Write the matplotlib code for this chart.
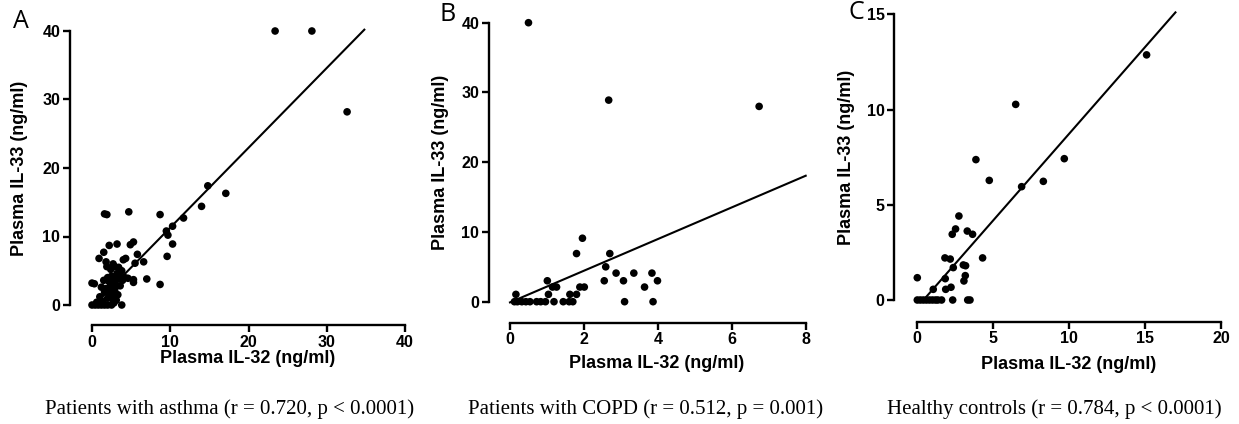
import numpy as np
import matplotlib
matplotlib.use("Agg")
import matplotlib.pyplot as plt

# ---- data ----
asthma_x = [23.4, 28.1, 32.6, 14.8, 17.1, 14.0, 11.7, 10.3, 9.5, 9.7, 10.3, 9.6, 8.7, 8.7,
            7.0, 6.6, 5.8, 5.5, 5.3, 4.9, 4.7, 4.3, 5.3, 5.3, 1.6, 1.9, 3.2, 2.2, 1.5, 0.9,
            0.3, 0.0,
            1.8, 2.7, 4.0, 2.9, 3.4, 2.4, 3.8, 2.0, 2.5, 3.0, 3.5, 4.2, 1.5, 2.2, 2.8, 3.3,
            3.9, 4.6, 1.2, 1.8, 2.4, 3.0, 3.6, 1.6, 2.3, 2.9, 3.3, 1.0, 2.0, 2.6, 3.1, 2.8,
            0.0, 0.4, 0.8, 1.2, 1.6, 2.0, 2.5, 3.8, 0.6, 1.4, 2.1, 2.7, 3.2, 1.9, 2.6]
asthma_y = [40.0, 40.0, 28.2, 17.4, 16.3, 14.4, 12.7, 11.5, 10.8, 10.2, 8.9, 7.1, 13.2, 3.0,
            3.8, 6.3, 7.4, 6.1, 9.2, 8.8, 13.6, 6.8, 3.7, 3.3, 13.3, 13.2, 8.9, 8.7, 7.7, 6.8,
            3.1, 3.2,
            6.3, 6.0, 6.6, 5.6, 5.5, 5.2, 5.0, 4.0, 4.2, 4.1, 4.3, 4.0, 3.6, 3.4, 3.5, 3.8,
            3.6, 3.9, 2.6, 2.4, 2.8, 3.0, 2.8, 1.9, 1.8, 2.2, 1.5, 1.2, 1.0, 0.9, 0.7, 0.3,
            0.0, 0.0, 0.0, 0.0, 0.0, 0.0, 0.0, 0.0, 0.4, 0.5, 2.3, 3.1, 4.6, 5.6, 1.4]

copd_x = [0.5, 2.67, 6.74, 1.96, 1.80, 2.70, 2.59, 2.55, 2.87, 3.07, 3.35, 3.10, 3.84, 3.99,
          3.64, 3.87, 1.89, 2.01, 1.80, 1.62, 1.60, 1.70, 1.44, 1.19, 1.01, 1.04, 1.15, 1.26,
          0.96, 0.83, 0.72, 0.54, 0.43, 0.32, 0.20, 0.12, 0.16]
copd_y = [40.0, 28.9, 28.0, 9.1, 6.9, 6.9, 5.0, 3.0, 4.1, 3.0, 4.1, 0.0, 4.1, 3.0,
          2.1, 0.0, 2.1, 2.1, 1.05, 1.05, 0.0, 0.0, 0.0, 0.0, 3.0, 1.05, 2.1, 2.1,
          0.0, 0.0, 0.0, 0.0, 0.0, 0.0, 0.0, 0.0, 1.05]

healthy_x = [15.1, 6.48, 9.68, 8.30, 6.87, 3.86, 4.74, 2.74, 2.52, 2.30, 3.29, 3.64, 4.30,
             1.82, 2.17, 2.37, 3.03, 3.18, 3.16, 3.07, 1.84, 1.87, 2.22, 1.05, 0.0, 2.33,
             1.60, 3.32, 3.47, 0.0, 0.2, 0.4, 0.6, 0.8, 1.0, 1.2, 1.35]
healthy_y = [12.87, 10.27, 7.42, 6.23, 5.95, 7.37, 6.28, 4.41, 3.73, 3.45, 3.62, 3.45, 2.21,
             2.21, 2.15, 1.70, 1.84, 1.80, 1.28, 1.0, 1.12, 0.56, 0.67, 0.56, 1.17, 0.0,
             0.0, 0.0, 0.0, 0.0, 0.0, 0.0, 0.0, 0.0, 0.0, 0.0, 0.0]

# regression lines: slope, intercept, x span
fits = [(1.165, -0.35, 0.3, 34.8), (2.27, -0.1, 0.0, 8.0), (0.91, -0.37, 0.46, 17.0)]

letters = ["A", "B", "C"]
captions = ["Patients with asthma (r = 0.720, p < 0.0001)",
            "Patients with COPD (r = 0.512, p = 0.001)",
            "Healthy controls (r = 0.784, p < 0.0001)"]
xticks = [[0, 10, 20, 30, 40], [0, 2, 4, 6, 8], [0, 5, 10, 15, 20]]
yticks = [[0, 10, 20, 30, 40], [0, 10, 20, 30, 40], [0, 5, 10, 15]]

# ---- layout (pixels -> figure fractions) ----
W, H = 1239, 424
boxes = [(92, 405, 31, 305), (510, 805.7, 22.7, 301.7), (917.3, 1221, 14.3, 300)]
offsets = [(22, 20), (21, 21), (23, 21.7)]  # y spine, x spine offset in px
ylab_x = [-0.205, -0.205, -0.205]
xlab_y = [-0.165, -0.19, -0.196]
letter_pos = [(13, 9), (439, 2), (849, 0)]
caption_x = [230, 646, 1054]

fig = plt.figure(figsize=(W / 100, H / 100), dpi=100)
datasets = [(asthma_x, asthma_y), (copd_x, copd_y), (healthy_x, healthy_y)]
px2pt = 72 / 100

for i, (xs, ys) in enumerate(datasets):
    l, r, t, b = boxes[i]
    ax = fig.add_axes([l / W, 1 - b / H, (r - l) / W, (b - t) / H])
    ax.scatter(xs, ys, s=30, color="black", edgecolors="none", clip_on=False, zorder=3)
    m, c, x0, x1 = fits[i]
    lx = np.array([x0, x1])
    ax.plot(lx, m * lx + c, color="black", lw=1.5, clip_on=False)
    ax.set_xlim(xticks[i][0], xticks[i][-1])
    ax.set_ylim(yticks[i][0], yticks[i][-1])
    ax.set_xticks(xticks[i])
    ax.set_yticks(yticks[i])
    for s in ["top", "right"]:
        ax.spines[s].set_visible(False)
    ax.spines["left"].set_position(("outward", offsets[i][0] * px2pt))
    ax.spines["bottom"].set_position(("outward", offsets[i][1] * px2pt))
    for s in ["left", "bottom"]:
        ax.spines[s].set_linewidth(1.7)
    ax.tick_params(direction="out", length=5, width=1.7, labelsize=11.5, pad=2)
    for lab in ax.get_xticklabels() + ax.get_yticklabels():
        lab.set_fontweight("bold")
        lab.set_family("Liberation Sans")
    ax.set_xlabel("Plasma IL-32 (ng/ml)", fontsize=13, fontweight="bold", family="Liberation Sans")
    ax.set_ylabel("Plasma IL-33 (ng/ml)", fontsize=13, fontweight="bold", family="Liberation Sans")
    ax.xaxis.set_label_coords(0.497, xlab_y[i])
    ax.yaxis.set_label_coords(ylab_x[i], 0.5)
    lx_, ly_ = letter_pos[i]
    fig.text(lx_ / W, 1 - ly_ / H, letters[i], fontsize=18, family="Open Sans",
             va="top", ha="left")
    fig.text(caption_x[i] / W, 1 - 414 / H, captions[i], fontsize=15,
             family="Liberation Serif", ha="center", va="baseline")

fig.savefig("out.png", dpi=100)
